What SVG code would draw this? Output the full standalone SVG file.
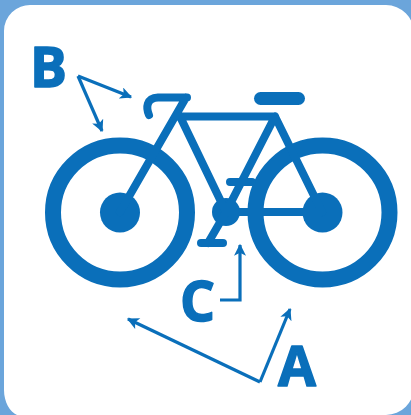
<svg xmlns="http://www.w3.org/2000/svg" width="411" height="415" viewBox="0 0 411 415">
<defs>
<style>
.w{fill:none;stroke:#0a6fba;stroke-width:16}
.f{fill:none;stroke:#0a6fba;stroke-width:8;stroke-linecap:round;stroke-linejoin:round}
.h{fill:#0a6fba}
.a{fill:none;stroke:#0a6fba;stroke-width:3.2;stroke-linejoin:miter}
.t{font-family:"Open Sans","Liberation Sans",sans-serif;font-weight:700;font-size:55px;fill:#0a6fba;stroke:#0a6fba;stroke-width:1.5;stroke-linejoin:round}
</style>
<marker id="ah" viewBox="0 0 10 10" refX="9" refY="5" markerWidth="14" markerHeight="12" markerUnits="userSpaceOnUse" orient="auto"><path d="M0 0L10 5L0 10L2.5 5Z" fill="#0a6fba"/></marker>
</defs>
<rect width="411" height="415" fill="#6ba5db"/>
<path d="M31 5H386A28 28 0 0 1 414 33V387A28 28 0 0 1 386 415H17C10 412 4 402 4 390V31A26 26 0 0 1 31 5Z" fill="#fff"/>
<g id="bicycle">
<circle class="w" cx="120" cy="212.5" r="67"/>
<circle class="w" cx="322.5" cy="212.5" r="67"/>
<circle class="h" cx="120" cy="212.5" r="20"/>
<circle class="h" cx="322.5" cy="212.5" r="20"/>
<circle class="h" cx="226" cy="212" r="14"/>
<path class="f" d="M120 212L186 97.5M180 116.5H275M180 116.5L226 212M275 116.5L322 212M275 116.5L226 212H322M149 115C146 108 146 98 158 97.5H187M230 182H252M226 212L208 243"/>
<path class="f" stroke-width="9" d="M201 243H223"/>
<path class="f" style="stroke-width:13" d="M260.500 98.500H298.500"/>
</g>
<g id="connectors">
<path class="a" marker-end="url(#ah)" d="M78 76L131 97"/>
<path class="a" marker-end="url(#ah)" d="M78 76L102 131"/>
<path class="a" marker-end="url(#ah)" d="M220 300H240V245"/>
<path class="a" marker-end="url(#ah)" d="M260 382L128 319"/>
<path class="a" marker-end="url(#ah)" d="M260 382L290 309"/>
</g>
<g id="labels">
<text class="t" x="30" y="87">B</text>
<text class="t" x="180" y="321">C</text>
<text class="t" x="278" y="386">A</text>
</g>
</svg>
